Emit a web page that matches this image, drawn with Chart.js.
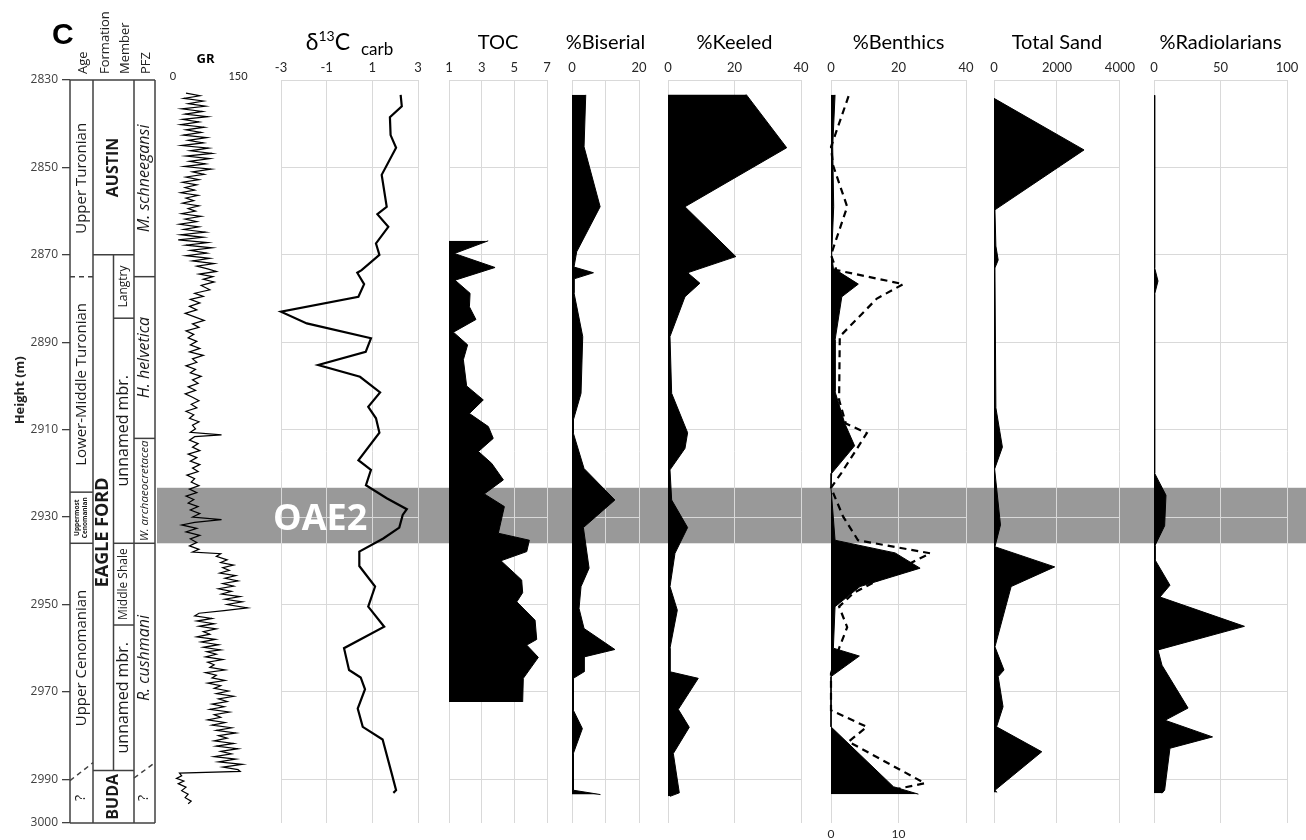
<!DOCTYPE html>
<html>
<head>
<meta charset="utf-8">
<script src="https://cdn.jsdelivr.net/npm/chart.js@4.4.1/dist/chart.umd.min.js"></script>
<style>
html, body { margin: 0; padding: 0; background: #fff; }
#wrap { position: relative; width: 1306px; height: 840px; overflow: hidden; }
#wrap canvas { position: absolute; top: 0; }
</style>
</head>
<body>
<div id="wrap"></div>
<script>
// ---- data ----
const heightTicks = [2830, 2850, 2870, 2890, 2910, 2930, 2950, 2970, 2990, 3000];
const gridHeights = [2830, 2850, 2870, 2890, 2910, 2930, 2950, 2970, 2990];
const oae2Top = 2923.3;
const oae2Base = 2936;

const grTicks = [0, 150];
const d13cTicks = [-3, -1, 1, 3];
const tocTicks = [1, 3, 5, 7];
const biserialTicks = [0, 10, 20];
const biserialTickLabels = ['0', '', '20'];
const keeledTicks = [0, 20, 40];
const benthicTicks = [0, 20, 40];
const benthicLowerTicks = [0, 10];
const sandTicks = [0, 2000, 4000];
const radTicks = [0, 50, 100];

const grDepth = [
  2833.0, 2833.6, 2834.2, 2834.8, 2835.4, 2836.0, 2836.6, 2837.2, 2837.8, 2838.4,
  2839.0, 2839.6, 2840.2, 2840.8, 2841.4, 2842.0, 2842.6, 2843.2, 2843.8, 2844.4,
  2845.0, 2845.6, 2846.2, 2846.8, 2847.4, 2848.0, 2848.6, 2849.2, 2849.8, 2850.4,
  2851.0, 2851.6, 2852.2, 2852.8, 2853.4, 2854.0, 2854.6, 2855.2, 2855.8, 2856.4,
  2857.0, 2857.6, 2858.2, 2858.8, 2859.4, 2860.0, 2860.6, 2861.2, 2861.8, 2862.4,
  2863.0, 2863.6, 2864.2, 2864.8, 2865.4, 2866.0, 2866.6, 2867.2, 2867.8, 2868.4,
  2869.0, 2869.6, 2870.2, 2870.8, 2871.4, 2872.0, 2872.6, 2873.2, 2873.8, 2874.4,
  2875.0, 2875.6, 2876.2, 2877.0, 2878.0, 2878.8, 2879.5, 2880.2, 2881.0, 2881.8,
  2882.6, 2883.4, 2884.2, 2885.0, 2885.8, 2886.6, 2887.4, 2888.2, 2889.0, 2889.8,
  2890.6, 2891.4, 2892.2, 2893.0, 2893.8, 2894.6, 2895.4, 2896.2, 2897.0, 2897.8,
  2898.6, 2899.4, 2900.2, 2901.0, 2901.8, 2902.6, 2903.4, 2904.2, 2905.0, 2905.8,
  2906.6, 2907.4, 2908.2, 2909.0, 2909.8, 2910.6, 2911.2, 2911.6, 2912.4, 2913.2,
  2914.0, 2914.8, 2915.6, 2916.4, 2917.2, 2918.0, 2918.8, 2919.6, 2920.4, 2921.2,
  2922.0, 2922.8, 2923.6, 2924.4, 2925.2, 2926.0, 2926.8, 2927.6, 2928.4, 2929.2,
  2930.0, 2930.6, 2931.2, 2931.8, 2932.6, 2933.4, 2934.2, 2935.0, 2935.8, 2936.6,
  2937.4, 2938.0, 2938.4, 2939.0, 2939.8, 2940.4, 2941.0, 2941.6, 2942.2, 2942.8,
  2943.4, 2944.0, 2944.6, 2945.2, 2945.8, 2946.4, 2947.0, 2947.6, 2948.2, 2948.8,
  2949.4, 2950.0, 2950.8, 2951.4, 2952.0, 2952.6, 2953.2, 2953.8, 2954.4, 2955.0,
  2955.6, 2956.2, 2956.8, 2957.4, 2958.0, 2958.6, 2959.2, 2959.8, 2960.4, 2960.8,
  2961.4, 2962.0, 2962.6, 2963.2, 2963.8, 2964.4, 2965.0, 2965.6, 2966.2, 2966.8,
  2967.4, 2968.0, 2968.6, 2969.2, 2969.8, 2970.4, 2971.0, 2971.6, 2972.2, 2972.8,
  2973.4, 2974.0, 2974.6, 2975.2, 2975.8, 2976.4, 2977.0, 2977.6, 2978.2, 2978.8,
  2979.4, 2980.0, 2980.6, 2981.2, 2981.8, 2982.4, 2983.0, 2983.6, 2984.2, 2984.8,
  2985.4, 2986.0, 2986.6, 2987.2, 2987.8, 2988.2, 2988.6, 2989.2, 2989.8, 2990.4,
  2991.0, 2991.8, 2992.6, 2993.4, 2994.2, 2995.0, 2995.6
];
const grValue = [
  30, 62, 25, 70, 35, 75, 20, 68, 28, 80,
  22, 60, 18, 72, 30, 65, 24, 78, 35, 70,
  20, 82, 40, 90, 30, 85, 38, 75, 26, 88,
  45, 72, 30, 60, 22, 55, 28, 50, 18, 58,
  30, 48, 22, 60, 35, 52, 20, 65, 28, 55,
  15, 60, 25, 75, 18, 70, 12, 80, 30, 90,
  40, 78, 30, 85, 45, 95, 55, 80, 100, 60,
  92, 70, 95, 65, 85, 50, 70, 40, 62, 38,
  55, 28, 50, 72, 45, 60, 30, 48, 35, 55,
  40, 62, 38, 70, 45, 55, 30, 52, 40, 65,
  45, 58, 35, 52, 28, 45, 60, 42, 55, 30,
  48, 38, 60, 45, 52, 40, 112, 50, 38, 58,
  45, 62, 35, 55, 40, 62, 45, 58, 32, 50,
  42, 60, 38, 55, 30, 48, 35, 58, 40, 62,
  45, 112, 50, 20, 55, 30, 62, 40, 55, 38,
  60, 45, 110, 100, 125, 110, 140, 115, 130, 108,
  145, 120, 150, 115, 140, 105, 135, 112, 155, 120,
  160, 125, 172, 118, 60, 50, 90, 55, 95, 60,
  100, 70, 85, 55, 98, 65, 105, 70, 110, 78,
  100, 75, 115, 80, 95, 85, 120, 75, 100, 90,
  120, 80, 110, 95, 128, 100, 140, 105, 125, 90,
  118, 85, 130, 95, 110, 80, 120, 90, 135, 100,
  145, 105, 125, 95, 140, 100, 150, 110, 135, 95,
  145, 105, 160, 115, 150, 155, 15, 20, 8, 25,
  12, 30, 20, 35, 28, 42, 35
];

const d13cDepth = [
  2833.4, 2836.0, 2838.5, 2842.6, 2845.5, 2851.7, 2859.0, 2860.7, 2863.6, 2867.4,
  2870.0, 2873.5, 2874.1, 2876.7, 2879.6, 2883.0, 2885.7, 2889.1, 2892.2, 2895.2,
  2897.9, 2901.5, 2904.8, 2907.4, 2910.7, 2917.0, 2919.2, 2922.7, 2925.7, 2928.2,
  2929.5, 2932.4, 2934.9, 2937.9, 2941.2, 2945.9, 2950.5, 2955.1, 2960.0, 2965.0,
  2966.7, 2969.4, 2973.8, 2978.0, 2980.9, 2988.7, 2992.5, 2993.1
];
const d13cValue = [
  2.24, 2.29, 1.77, 1.80, 2.04, 1.41, 1.63, 1.22, 1.70, 1.16,
  1.31, 0.53, 0.34, 0.64, 0.39, -3.0, -1.87, 0.94, 0.71, -1.37,
  0.46, 1.34, 0.82, 1.16, 1.31, 0.39, 0.94, 0.72, 1.63, 2.51,
  2.33, 2.18, 1.48, 0.43, 0.43, 1.12, 0.82, 1.52, -0.24, -0.02,
  0.49, 0.68, 0.36, 0.58, 1.45, 1.85, 2.04, 1.92
];

const tocDepth = [
  2866.8, 2869.7, 2872.9, 2875.8, 2878.8, 2881.9, 2884.8, 2887.7, 2890.6, 2894.0,
  2900.0, 2903.2, 2906.3, 2909.3, 2912.0, 2915.0, 2917.7, 2921.5, 2924.7, 2927.6,
  2933.7, 2935.3, 2937.9, 2940.0, 2944.4, 2947.3, 2949.4, 2953.6, 2958.0, 2959.3,
  2962.1, 2966.9, 2972.3
];
const tocValue = [
  3.4, 1.33, 3.82, 1.37, 2.29, 2.25, 2.65, 1.27, 2.14, 1.88,
  2.08, 3.10, 2.25, 3.41, 3.71, 2.80, 3.61, 4.33, 3.16, 4.39,
  4.02, 5.92, 5.76, 4.18, 5.45, 5.51, 5.15, 6.27, 6.37, 5.76,
  6.47, 5.55, 5.51
];

const biserialDepth = [
  2833.4, 2845.3, 2859.0, 2869.3, 2872.8, 2874.1, 2875.5, 2878.7, 2888.7, 2901.7,
  2907.8, 2910.8, 2918.9, 2926.1, 2932.4, 2941.7, 2945.9, 2950.9, 2955.5, 2960.3,
  2962.0, 2965.4, 2966.9, 2974.2, 2978.4, 2984.1, 2992.5, 2993.5
];
const biserialValue = [
  4.1, 3.6, 8.4, 1.4, 0.6, 6.4, 0.6, 0.6, 3.2, 2.7,
  0.4, 0.4, 3.6, 12.8, 3.4, 5.1, 2.7, 2.1, 3.6, 12.8,
  3.6, 3.6, 0.4, 0.4, 3.1, 0.4, 0.4, 8.5
];

const keeledDepth = [
  2833.3, 2845.5, 2859.0, 2870.4, 2874.1, 2876.5, 2879.6, 2888.7, 2901.7, 2910.7,
  2914.3, 2919.2, 2926.1, 2932.4, 2938.3, 2945.9, 2951.3, 2960.0, 2965.4, 2966.9,
  2974.0, 2978.1, 2984.1, 2993.1, 2993.9
];
const keeledValue = [
  23.5, 35.7, 5.1, 20.4, 5.9, 9.6, 5.1, 0.6, 1.1, 5.9,
  5.1, 0.6, 1.1, 5.9, 2.1, 0.6, 2.8, 0.6, 0.6, 9.1,
  3.1, 6.4, 1.6, 3.4, 0.6
];

const benthicDepth = [
  2833.4, 2845.3, 2859.0, 2870.0, 2873.1, 2876.7, 2879.6, 2889.5, 2901.3, 2908.6,
  2913.7, 2920.0, 2923.3, 2935.3, 2938.2, 2941.7, 2945.9, 2950.5, 2960.0, 2961.8,
  2966.5, 2978.0, 2991.7, 2993.4
];
const benthicValue = [
  1.2, 0.5, 0.8, 0.2, 0.7, 8.1, 3.2, 1.2, 1.2, 4.1,
  7.0, 0.2, 0.0, 1.2, 19.0, 26.4, 8.6, 1.2, 0.7, 8.4,
  0.0, 0.0, 18.5, 25.9
];

// dashed series, read on the lower 0-20 axis
const benthicLowerDepth = [
  2833.7, 2845.3, 2849.5, 2859.0, 2870.0, 2873.5, 2876.7, 2880.0, 2888.7, 2903.2,
  2908.6, 2910.8, 2913.5, 2920.0, 2923.3, 2929.9, 2935.3, 2938.3, 2939.8, 2947.4,
  2950.5, 2955.2, 2960.0, 2965.8, 2974.2, 2978.0, 2981.4, 2990.9, 2992.3
];
const benthicLowerValue = [
  2.6, 0.0, 0.3, 2.4, 0.0, 0.8, 10.7, 6.8, 1.3, 1.2,
  2.2, 5.3, 4.2, 1.5, 0.0, 1.8, 4.0, 14.7, 12.7, 3.3,
  1.2, 2.4, 1.2, 0.0, 0.0, 5.3, 2.6, 13.9, 9.5
];

const sandDepth = [
  2834.2, 2846.0, 2859.7, 2868.0, 2871.2, 2873.0, 2905.0, 2914.0, 2919.0, 2931.8,
  2936.8, 2941.4, 2945.9, 2959.7, 2965.0, 2966.5, 2973.4, 2978.0, 2983.7, 2992.5,
  2993.0
];
const sandValue = [
  0, 2860, 30, 60, 133, 30, 60, 267, 20, 205,
  30, 1928, 544, 30, 318, 133, 287, 82, 1518, 30,
  100
];

const radDepth = [
  2833.5, 2873.0, 2876.0, 2879.0, 2920.0, 2925.0, 2932.0, 2936.5, 2939.8, 2945.6,
  2948.3, 2955.0, 2960.4, 2963.9, 2973.7, 2976.5, 2980.3, 2982.9, 2992.5, 2993.2
];
const radValue = [
  0.5, 0.5, 3.0, 0.5, 0.5, 9.0, 8.0, 0.8, 0.8, 12.0,
  4.5, 68.0, 3.0, 6.0, 25.6, 8.3, 44.0, 12.0, 8.0, 6.0
];

// stratigraphic column: columns 0 Age, 1 Formation, 2 Member, 3 PFZ
const columnHeaders = ['Age', 'Formation', 'Member', 'PFZ'];
const stratUnits = [
  {c0: 0, c1: 1, top: 2830, base: 2875, text: ['Upper Turonian'], kind: 'age'},
  {c0: 0, c1: 1, top: 2875, base: 2924.3, text: ['Lower-Middle Turonian'], kind: 'age'},
  {c0: 0, c1: 1, top: 2924.3, base: 2936, text: ['Uppermost', 'Cenomanian'], kind: 'tiny'},
  {c0: 0, c1: 1, top: 2936, base: 2988.5, text: ['Upper Cenomanian'], kind: 'age'},
  {c0: 0, c1: 1, top: 2988.5, base: 3000, text: ['?'], kind: 'q'},
  {c0: 1, c1: 3, top: 2830, base: 2870, text: ['AUSTIN'], kind: 'fm'},
  {c0: 1, c1: 2, top: 2870, base: 2988, at: 2933.5, text: ['EAGLE FORD'], kind: 'fmBig'},
  {c0: 2, c1: 3, top: 2870, base: 2884.5, text: ['Langtry'], kind: 'mbrSmall'},
  {c0: 2, c1: 3, top: 2884.5, base: 2936, text: ['unnamed mbr.'], kind: 'mbr'},
  {c0: 2, c1: 3, top: 2936, base: 2954.7, text: ['Middle Shale'], kind: 'mbrSmall'},
  {c0: 2, c1: 3, top: 2954.7, base: 2988, text: ['unnamed mbr.'], kind: 'mbr'},
  {c0: 1, c1: 3, top: 2988, base: 3000, text: ['BUDA'], kind: 'fm'},
  {c0: 3, c1: 4, top: 2830, base: 2875, text: ['M. schneegansi'], kind: 'pfz'},
  {c0: 3, c1: 4, top: 2875, base: 2912, text: ['H. helvetica'], kind: 'pfz'},
  {c0: 3, c1: 4, top: 2912, base: 2936, text: ['W. archaeocretacea'], kind: 'pfzSmall'},
  {c0: 3, c1: 4, top: 2936, base: 2988.5, text: ['R. cushmani'], kind: 'pfz'},
  {c0: 3, c1: 4, top: 2988.5, base: 3000, text: ['?'], kind: 'q'}
];
// boundaries: h0 at left edge, h1 at right edge
const stratBoundaries = [
  {c0: 0, c1: 4, h0: 2830, h1: 2830},
  {c0: 0, c1: 4, h0: 3000, h1: 3000},
  {c0: 0, c1: 1, h0: 2875, h1: 2875, dash: true},
  {c0: 0, c1: 1, h0: 2924.3, h1: 2924.3},
  {c0: 0, c1: 1, h0: 2936, h1: 2936},
  {c0: 0, c1: 1, h0: 2990.3, h1: 2986.2, dash: true},
  {c0: 1, c1: 3, h0: 2870, h1: 2870},
  {c0: 1, c1: 3, h0: 2988, h1: 2988},
  {c0: 2, c1: 3, h0: 2884.5, h1: 2884.5},
  {c0: 2, c1: 3, h0: 2936, h1: 2936},
  {c0: 2, c1: 3, h0: 2954.7, h1: 2954.7},
  {c0: 3, c1: 4, h0: 2875, h1: 2875},
  {c0: 3, c1: 4, h0: 2912, h1: 2912},
  {c0: 3, c1: 4, h0: 2936, h1: 2936},
  {c0: 3, c1: 4, h0: 2989.7, h1: 2986.2, dash: true}
];
const stratVerticals = [
  {c: 0, top: 2830, base: 3000},
  {c: 1, top: 2830, base: 3000},
  {c: 2, top: 2870, base: 2988},
  {c: 3, top: 2830, base: 3000},
  {c: 4, top: 2830, base: 3000}
];

// ---- layout / style ----
const colEdges = [0, 23, 43.5, 64, 85];
const gridColor = '#d9d9d9';
const bandColor = '#999999';
const ink = '#000000';
const lineInk = '#404040';
const unitFonts = {
  age: '15px "Open Sans"',
  tiny: 'bold 6.5px "Open Sans"',
  q: '14px "Open Sans"',
  fm: 'bold 16px "Open Sans"',
  fmBig: 'bold 18px "Open Sans"',
  mbr: '16px "Open Sans"',
  mbrSmall: '12px "Open Sans"',
  pfz: 'italic 16px "Open Sans"',
  pfzSmall: 'italic 11.5px "Open Sans"'
};

const wrap = document.getElementById('wrap');

function series(depths, values) {
  return values.map((v, i) => ({x: v, y: depths[i]}));
}

function makeCanvas(c0, c1) {
  const cv = document.createElement('canvas');
  cv.width = c1 - c0;
  cv.height = 840;
  cv.style.left = c0 + 'px';
  cv.style.width = (c1 - c0) + 'px';
  cv.style.height = '840px';
  wrap.appendChild(cv);
  return cv;
}

// ---- left column chart ----
const strat = {
  id: 'strat',
  afterDraw(chart) {
    const {ctx} = chart;
    const ys = chart.scales.y, xs = chart.scales.x;
    const px = c => xs.getPixelForValue(colEdges[c]);
    const py = h => ys.getPixelForValue(h);
    ctx.save();
    ctx.strokeStyle = lineInk;
    ctx.lineWidth = 1.5;
    stratVerticals.forEach(v => {
      ctx.beginPath();
      ctx.moveTo(px(v.c), py(v.top));
      ctx.lineTo(px(v.c), py(v.base));
      ctx.stroke();
    });
    stratBoundaries.forEach(b => {
      ctx.setLineDash(b.dash ? [5, 4] : []);
      ctx.beginPath();
      ctx.moveTo(px(b.c0), py(b.h0));
      ctx.lineTo(px(b.c1), py(b.h1));
      ctx.stroke();
    });
    ctx.setLineDash([]);

    ctx.fillStyle = '#1a1a1a';
    ctx.textAlign = 'center';
    ctx.textBaseline = 'middle';
    stratUnits.forEach(u => {
      const cx = (px(u.c0) + px(u.c1)) / 2;
      const cy = u.at !== undefined ? py(u.at) : (py(u.top) + py(u.base)) / 2;
      ctx.save();
      ctx.translate(cx, cy);
      ctx.rotate(-Math.PI / 2);
      ctx.font = unitFonts[u.kind];
      const lh = u.kind === 'tiny' ? 8 : 0;
      u.text.forEach((t, i) => {
        ctx.fillText(t, 0, (i - (u.text.length - 1) / 2) * lh);
      });
      ctx.restore();
    });

    // column headers
    ctx.font = '13px "Open Sans"';
    ctx.fillStyle = '#222';
    ctx.textAlign = 'left';
    columnHeaders.forEach((h, i) => {
      const cx = (px(i) + px(i + 1)) / 2 + 2;
      ctx.save();
      ctx.translate(cx, 74);
      ctx.rotate(-Math.PI / 2);
      ctx.fillText(h, 0, 0);
      ctx.restore();
    });

    // axis title
    ctx.save();
    ctx.font = 'bold 13px "Open Sans"';
    ctx.textAlign = 'center';
    ctx.translate(20, py(2901));
    ctx.rotate(-Math.PI / 2);
    ctx.fillText('Height (m)', 0, 0);
    ctx.restore();

    // panel letter
    ctx.font = 'bold 30px "Liberation Sans"';
    ctx.fillStyle = '#000';
    ctx.textAlign = 'left';
    ctx.textBaseline = 'alphabetic';
    ctx.fillText('C', 52, 44);
    ctx.restore();
  }
};

new Chart(makeCanvas(0, 157), {
  type: 'line',
  data: {datasets: []},
  options: {
    responsive: false,
    animation: false,
    events: [],
    devicePixelRatio: 1,
    layout: {padding: {left: 0, right: 2, top: 80, bottom: 17}},
    plugins: {legend: {display: false}, tooltip: {enabled: false}},
    scales: {
      x: {type: 'linear', display: false, min: 0, max: 85},
      y: {
        type: 'linear', reverse: true, min: 2830, max: 3000,
        afterBuildTicks: s => { s.ticks = heightTicks.map(v => ({value: v})); },
        afterFit: s => { s.width = 70; },
        ticks: {
          autoSkip: false, padding: 4, color: '#404040',
          font: {family: 'Open Sans', size: 12},
          callback: v => String(v)
        },
        grid: {drawOnChartArea: false, drawTicks: true, tickLength: 8, color: lineInk, lineWidth: 1.3},
        border: {display: false}
      }
    }
  },
  plugins: [strat]
});

// ---- data panels ----
const panelDeco = {
  id: 'panelDeco',
  beforeDraw(chart) {
    const {ctx, width} = chart;
    const ys = chart.scales.y;
    const t = ys.getPixelForValue(oae2Top), b = ys.getPixelForValue(oae2Base);
    ctx.save();
    ctx.fillStyle = bandColor;
    ctx.fillRect(0, t, width, b - t);
    ctx.restore();
  },
  afterDraw(chart, args, opts) {
    const {ctx, chartArea} = chart;
    const cx = (chartArea.left + chartArea.right) / 2;
    ctx.save();
    ctx.fillStyle = '#000';
    ctx.textBaseline = 'alphabetic';
    if (opts.title === 'd13c') {
      const parts = [
        {t: '\u03b4', f: '23px Lato', dy: 0, gap: 0},
        {t: '13', f: '14px Lato', dy: -9, gap: 0},
        {t: 'C', f: '23px Lato', dy: 0, gap: 0},
        {t: 'carb', f: '17px Lato', dy: 5, gap: 11}
      ];
      let total = 0;
      parts.forEach(p => { ctx.font = p.f; p.w = ctx.measureText(p.t).width; total += p.w + p.gap; });
      let x = cx - total / 2;
      ctx.textAlign = 'left';
      parts.forEach(p => {
        x += p.gap;
        ctx.font = p.f;
        ctx.fillText(p.t, x, 50 + p.dy);
        x += p.w;
      });
    } else if (opts.bold) {
      ctx.font = 'bold 13px "Open Sans"';
      ctx.textAlign = 'center';
      ctx.fillText(opts.title, cx, 63);
    } else {
      ctx.font = '20px Lato';
      ctx.textAlign = 'center';
      ctx.fillText(opts.title, cx, 49);
    }
    if (opts.oae2) {
      const b = chart.scales.y.getPixelForValue(oae2Base);
      ctx.font = 'bold 36px "Open Sans"';
      ctx.fillStyle = '#ffffff';
      ctx.textAlign = 'left';
      ctx.fillText('OAE2', chartArea.left - 8, b - 13);
    }
    ctx.restore();
  }
};

const panels = [
  {title: 'GR', bold: true, c0: 157, c1: 268, left: 173, right: 238, min: 0, max: 150,
   ticks: grTicks, noGrid: true, tickPad: -3, tickSize: 11,
   sets: [{depth: grDepth, value: grValue, width: 1.2}]},
  {title: 'd13c', oae2: true, c0: 268, c1: 433, left: 281, right: 418, min: -3, max: 3,
   ticks: d13cTicks, sets: [{depth: d13cDepth, value: d13cValue, width: 2.2}]},
  {title: 'TOC', c0: 433, c1: 560, left: 449, right: 547, min: 1, max: 7,
   ticks: tocTicks, sets: [{depth: tocDepth, value: tocValue, fill: true}]},
  {title: '%Biserial', c0: 560, c1: 653, left: 572, right: 639, min: 0, max: 20,
   ticks: biserialTicks, labels: biserialTickLabels,
   sets: [{depth: biserialDepth, value: biserialValue, fill: true}]},
  {title: '%Keeled', c0: 653, c1: 816, left: 668, right: 801, min: 0, max: 40,
   ticks: keeledTicks, sets: [{depth: keeledDepth, value: keeledValue, fill: true}]},
  {title: '%Benthics', c0: 816, c1: 980, left: 831, right: 966, min: 0, max: 40,
   ticks: benthicTicks, lower: {min: 0, max: 20, ticks: benthicLowerTicks},
   sets: [
     {depth: benthicLowerDepth, value: benthicLowerValue, axis: 'x2', width: 2.2, dash: [7, 5]},
     {depth: benthicDepth, value: benthicValue, fill: true}
   ]},
  {title: 'Total Sand', c0: 980, c1: 1139, left: 994, right: 1124, min: 0, max: 4000,
   ticks: sandTicks, sets: [{depth: sandDepth, value: sandValue, fill: true}]},
  {title: '%Radiolarians', c0: 1139, c1: 1306, left: 1154, right: 1287, min: 0, max: 100,
   ticks: radTicks, sets: [{depth: radDepth, value: radValue, fill: true}]}
];

panels.forEach(p => {
  const datasets = p.sets.map(s => ({
    data: series(s.depth, s.value),
    xAxisID: s.axis || 'x',
    yAxisID: 'y',
    borderColor: ink,
    backgroundColor: ink,
    borderWidth: s.width || 1,
    borderDash: s.dash || [],
    fill: s.fill ? {value: p.min} : false,
    pointRadius: 0,
    tension: 0,
    clip: false
  }));
  const tickFont = {family: 'Lato', size: p.tickSize || 13};
  const scales = {
    x: {
      type: 'linear', position: 'top', min: p.min, max: p.max,
      afterBuildTicks: s => { s.ticks = p.ticks.map(v => ({value: v})); },
      afterFit: s => { s.height = 20; },
      ticks: {
        autoSkip: false, maxRotation: 0, padding: p.tickPad !== undefined ? p.tickPad : 4,
        color: '#262626', font: tickFont,
        callback: (v, i) => p.labels ? p.labels[i] : String(v)
      },
      grid: {display: !p.noGrid, color: gridColor, lineWidth: 1, drawTicks: false},
      border: {display: false}
    },
    y: {
      type: 'linear', reverse: true, min: 2830, max: 3000,
      afterBuildTicks: s => { s.ticks = gridHeights.map(v => ({value: v})); },
      afterFit: s => { s.width = 0; },
      ticks: {display: false},
      grid: {display: !p.noGrid, color: gridColor, lineWidth: 1, drawTicks: false},
      border: {display: false}
    }
  };
  if (p.lower) {
    scales.x2 = {
      type: 'linear', position: 'bottom', min: p.lower.min, max: p.lower.max,
      afterBuildTicks: s => { s.ticks = p.lower.ticks.map(v => ({value: v})); },
      afterFit: s => { s.height = 17; },
      ticks: {autoSkip: false, maxRotation: 0, padding: 4, color: '#262626',
              font: {family: 'Lato', size: 12}, callback: v => String(v)},
      grid: {display: false, drawTicks: false},
      border: {display: false}
    };
  }
  new Chart(makeCanvas(p.c0, p.c1), {
    type: 'line',
    data: {datasets},
    options: {
      indexAxis: 'y',
      responsive: false,
      animation: false,
      events: [],
      devicePixelRatio: 1,
      layout: {padding: {left: p.left - p.c0, right: p.c1 - p.right, top: 60, bottom: p.lower ? 0 : 17}},
      plugins: {
        legend: {display: false},
        tooltip: {enabled: false},
        panelDeco: {title: p.title, bold: p.bold, oae2: p.oae2}
      },
      scales
    },
    plugins: [panelDeco]
  });
});
</script>
</body>
</html>
